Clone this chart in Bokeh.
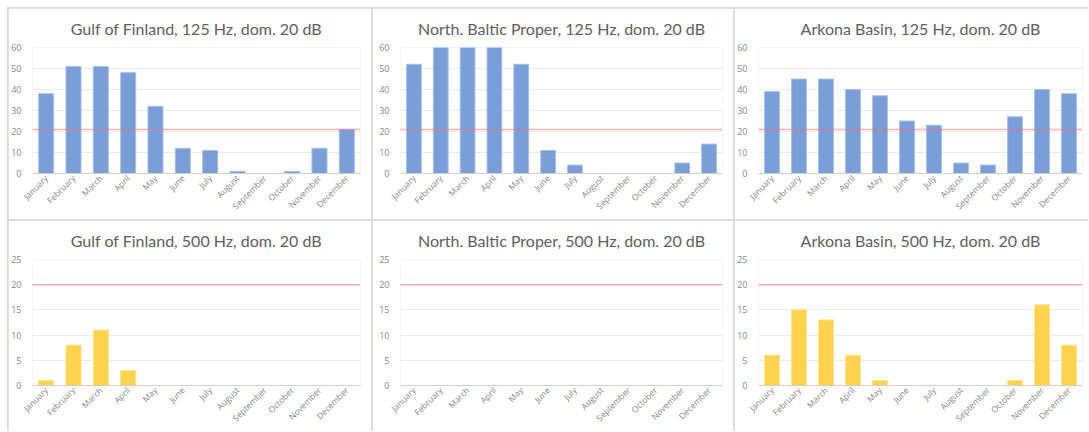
import math
from bokeh.plotting import figure
from bokeh.models import GridBox, Range1d, FixedTicker, Span
from bokeh.embed import file_html
from bokeh.resources import INLINE

months = ["January", "February", "March", "April", "May", "June", "July",
          "August", "September", "October", "November", "December"]

gulf_125 = [38, 51, 51, 48, 32, 12, 11, 1, 0, 1, 12, 21]
north_125 = [52, 60, 60, 60, 52, 11, 4, 0, 0, 0, 5, 14]
arkona_125 = [39, 45, 45, 40, 37, 25, 23, 5, 4, 27, 40, 38]

gulf_500 = [1, 8, 11, 3, 0, 0, 0, 0, 0, 0, 0, 0]
north_500 = [0, 0, 0, 0, 0, 0, 0, 0, 0, 0, 0, 0]
arkona_500 = [6, 15, 13, 6, 1, 0, 0, 0, 0, 1, 16, 8]

titles_125 = ["Gulf of Finland, 125 Hz, dom. 20 dB",
              "North. Baltic Proper, 125 Hz, dom. 20 dB",
              "Arkona Basin, 125 Hz, dom. 20 dB"]
titles_500 = ["Gulf of Finland, 500 Hz, dom. 20 dB",
              "North. Baltic Proper, 500 Hz, dom. 20 dB",
              "Arkona Basin, 500 Hz, dom. 20 dB"]

ticks_125 = [0, 10, 20, 30, 40, 50, 60]
ticks_500 = [0, 5, 10, 15, 20, 25]
threshold_125 = 21
threshold_500 = 20

BLUE = "#7a9fd8"
BLUE_EDGE = "#a7bfe6"
YELLOW = "#ffd34f"
YELLOW_EDGE = "#ffe289"

col_widths = [363, 361, 354]
col_left = [24, 28, 24]
col_right = [11, 11, 6]
row_heights = [211, 211]
row_top = [39, 39]
row_bottom = [46, 46]


def make_panel(title, values, ticks, threshold, color, edge, row, col):
    p = figure(x_range=months, y_range=Range1d(ticks[0], ticks[-1]),
               width=col_widths[col], height=row_heights[row],
               output_backend="svg", toolbar_location=None,
               min_border_left=col_left[col], min_border_right=col_right[col],
               min_border_top=row_top[row], min_border_bottom=row_bottom[row])
    p.title.text = title
    p.title.align = "center"
    p.title.vertical_align = "middle"
    p.title.text_font = "Lato"
    p.title.text_font_size = "16px"
    p.title.text_font_style = "normal"
    p.title.text_color = "#606060"
    p.title.standoff = 18

    p.vbar(x=months, top=values, width=0.55, fill_color=color,
           line_color=edge, line_width=1)

    p.add_layout(Span(location=threshold, dimension="width",
                      line_color="#ff6666", line_dash="1 1", line_width=1.5))

    p.outline_line_color = None
    p.background_fill_color = "white"
    p.border_fill_color = "white"
    p.xgrid.grid_line_color = None
    p.ygrid.grid_line_color = "#ececec"
    p.ygrid.ticker = FixedTicker(ticks=ticks)

    p.yaxis.ticker = FixedTicker(ticks=ticks)
    p.yaxis.axis_line_color = None
    p.yaxis.major_tick_line_color = None
    p.yaxis.minor_tick_line_color = None
    p.yaxis.major_tick_out = 0
    p.yaxis.major_tick_in = 0
    p.yaxis.major_label_standoff = 11
    p.yaxis.major_label_text_font = "Open Sans"
    p.yaxis.major_label_text_font_size = "9px"
    p.yaxis.major_label_text_color = "#888888"

    p.xaxis.axis_line_color = "#d0d0d0"
    p.xaxis.major_tick_line_color = None
    p.xaxis.minor_tick_line_color = None
    p.xaxis.major_tick_out = 0
    p.xaxis.major_tick_in = 0
    p.xaxis.major_label_orientation = math.pi / 4
    p.xaxis.major_label_standoff = 3
    p.xaxis.major_label_text_font = "Open Sans"
    p.xaxis.major_label_text_font_size = "8.5px"
    p.xaxis.major_label_text_color = "#888888"
    return p


children = []
for c, (t, v) in enumerate(zip(titles_125, [gulf_125, north_125, arkona_125])):
    children.append((make_panel(t, v, ticks_125, threshold_125, BLUE, BLUE_EDGE, 0, c), 0, c))
for c, (t, v) in enumerate(zip(titles_500, [gulf_500, north_500, arkona_500])):
    children.append((make_panel(t, v, ticks_500, threshold_500, YELLOW, YELLOW_EDGE, 1, c), 1, c))

grid = GridBox(children=children, spacing=1,
               styles={"background-color": "#d9d9d9",
                       "margin-left": "7px",
                       "margin-top": "7px",
                       "border-top": "1px solid #d9d9d9",
                       "border-left": "1px solid #d9d9d9"})

open("out.html", "w").write(file_html(grid, INLINE))
